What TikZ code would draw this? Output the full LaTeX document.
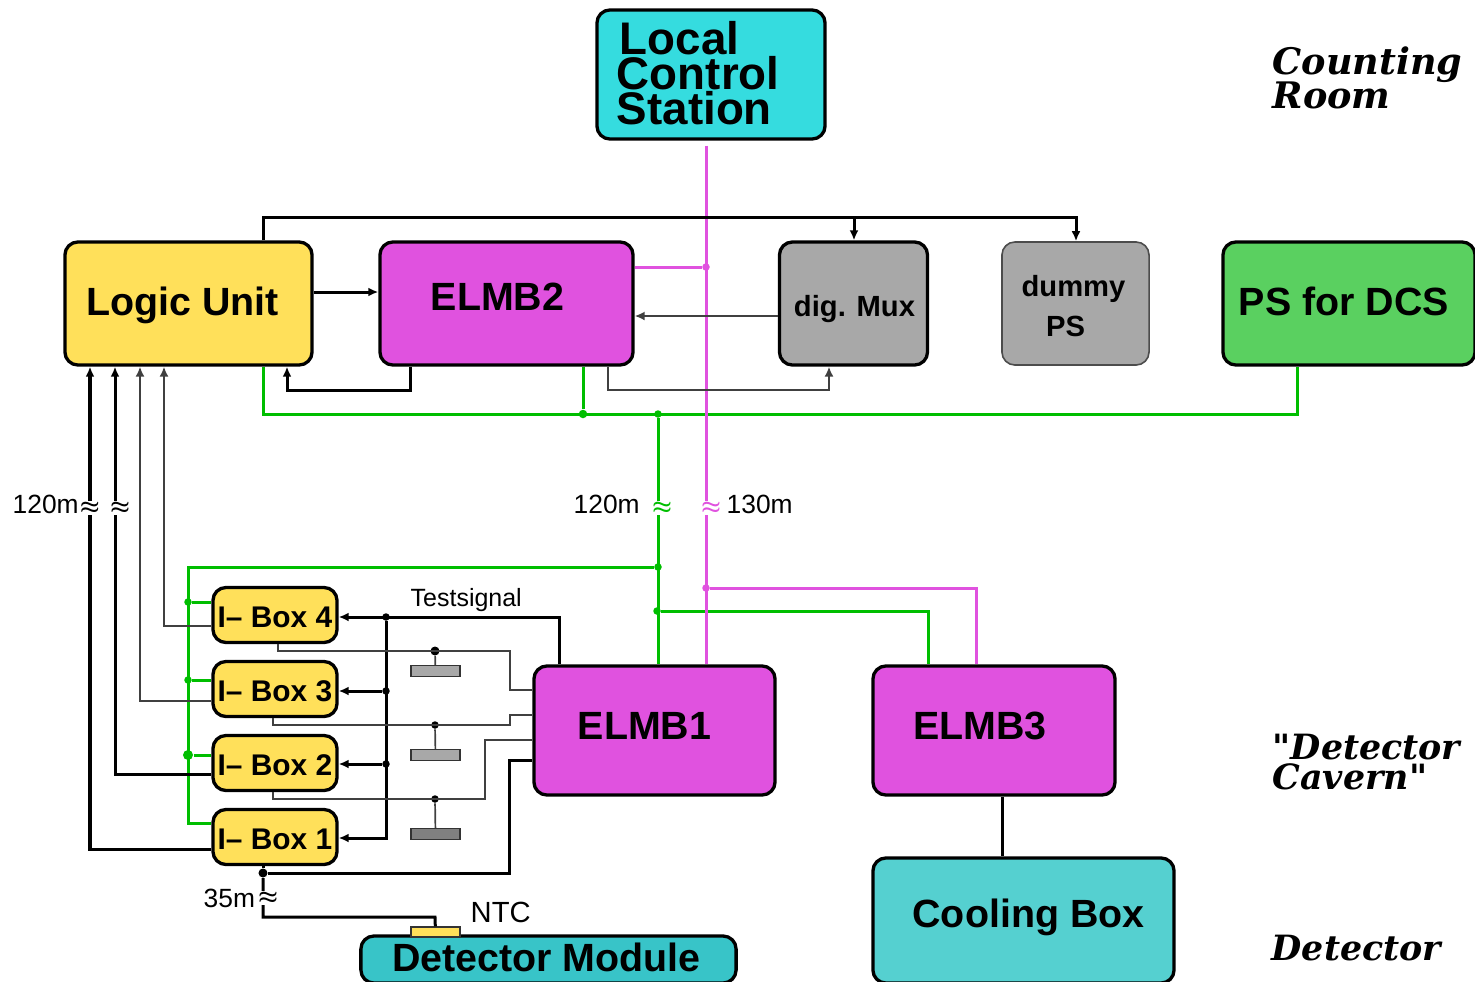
\documentclass[tikz,border=0pt]{standalone}
\usepackage{fontspec}
\setmainfont{Liberation Sans}
\newfontfamily\roomfont{DejaVu Serif}
\usepackage{tikz}
\usetikzlibrary{positioning, arrows.meta}

\definecolor{cyanbox}{HTML}{35DCDF}
\definecolor{yellowbox}{HTML}{FFE05A}
\definecolor{elmbbox}{HTML}{E052DF}
\definecolor{graybox}{HTML}{A8A8A8}
\definecolor{greenbox}{HTML}{5AD060}
\definecolor{coolbox}{HTML}{55D0D0}
\definecolor{modbox}{HTML}{38C4C8}
\definecolor{wiregreen}{HTML}{00BE00}

\setlength\lineskiplimit{-20pt}
\newlength\pxu
\setlength\pxu{0.01cm}
\newcommand{\off}[3]{\raisebox{#2\pxu}[0pt][0pt]{\hspace*{#1\pxu}#3\hspace*{-#1\pxu}}}

\tikzset{
	box/.style={draw=black, line width=0.033cm, rounded corners=0.13cm, inner sep=0pt, align=center},
	bigbox/.style={box, font=\fontsize{11.2}{13}\selectfont\bfseries},
	ibox/.style={box, fill=yellowbox, minimum width=1.24cm, minimum height=0.55cm, font=\fontsize{8.5}{10}\selectfont\bfseries},
	smallbox/.style={box, fill=graybox, minimum width=1.48cm, minimum height=1.23cm, font=\fontsize{8.3}{11.1}\selectfont\bfseries},
	load/.style={draw=black!80, line width=0.014cm, minimum width=0.49cm, minimum height=0.11cm, inner sep=0pt},
	dot/.style={circle, fill=#1, inner sep=0pt, minimum size=0.075cm},
	dot/.default=black,
	blk/.style={draw=black, line width=0.03cm},
	thn/.style={draw=black!75, line width=0.017cm},
	grn/.style={draw=wiregreen, line width=0.03cm},
	mag/.style={draw=elmbbox, line width=0.03cm},
	lab/.style={inner sep=0pt, font=\fontsize{7.5}{9}\selectfont},
	brk/.style={fill=white, inner sep=0.3pt, font=\fontsize{5.5}{5.5}\selectfont\boldmath},
	room/.style={inner sep=0pt, anchor=west, align=left},
	>={Latex[length=0.1cm,width=0.09cm]}
}

\begin{document}
\begin{tikzpicture}[x=0.01cm,y=-0.01cm]
\useasboundingbox (0,0) rectangle (1475,981);

% boxes
\node[box, fill=cyanbox, minimum height=1.29cm, text width=1.88cm, inner xsep=0.2cm, align=left, font=\fontsize{13}{9.9}\selectfont\bfseries] (lcs) at (711,74.5) {\off{3}{-15}{Local}\\\off{0}{-15}{Control}\\\off{0}{-15}{Station}};
\node[bigbox, fill=yellowbox, minimum width=2.47cm, minimum height=1.23cm] (logic) at (188.5,303.5) {\off{-6}{-12}{Logic Unit}};
\node[bigbox, fill=elmbbox, minimum width=2.53cm, minimum height=1.23cm] (elmb2) at (506.5,303.5) {\off{-9}{-7}{ELMB2}};
\node[smallbox] (mux) at (853.5,303.5) {\off{1}{-13}{dig. Mux}};
\node[smallbox, draw=black!70, line width=0.016cm, minimum width=1.47cm] (dummy) at (1075.5,303.5) {\off{-2}{-13}{dummy}\\\off{-10}{-13}{PS}};
\node[bigbox, fill=greenbox, minimum width=2.52cm, minimum height=1.23cm] (psdcs) at (1349,303.5) {\off{-5}{-12}{PS for DCS}};
\node[bigbox, fill=elmbbox, minimum width=2.41cm, minimum height=1.29cm] (elmb1) at (654.5,730.5) {\off{-10}{-9}{ELMB1}};
\node[bigbox, fill=elmbbox, minimum width=2.42cm, minimum height=1.29cm] (elmb3) at (994,730.5) {\off{-14}{-9}{ELMB3}};
\node[bigbox, fill=coolbox, minimum width=3.01cm, minimum height=1.25cm] (cool) at (1023.5,920.5) {\off{5}{-7}{Cooling Box}};
\node[bigbox, fill=modbox, minimum width=3.75cm, minimum height=0.47cm] (module) at (548.5,959.5) {\off{-2}{-12}{Detector Module}};
\node[draw=black!80, line width=0.014cm, fill=yellowbox, minimum width=0.49cm, minimum height=0.1cm, inner sep=0pt] (ntc) at (435.5,932) {};

\node[ibox] (ibox4) at (275,615) {\off{0}{-12}{I-- Box 4}};
\node[ibox] (ibox3) at (275,689) {\off{0}{-12}{I-- Box 3}};
\node[ibox] (ibox2) at (275,763) {\off{0}{-12}{I-- Box 2}};
\node[ibox] (ibox1) at (275,837) {\off{0}{-12}{I-- Box 1}};

\node[load, fill=graybox] (load4) at (435.5,671) {};
\node[load, fill=graybox] (load3) at (435.5,755) {};
\node[load, fill=black!50] (load2) at (435.5,834) {};

% junctions
\node[dot=elmbbox] (jtop) at (706,267) {};
\node[dot=elmbbox] (jelmb3) at (706,588) {};
\node[dot=wiregreen, minimum size=0.085cm] (jsupply) at (583,414) {};
\node[dot=wiregreen] (jcable) at (658,414) {};
\node[dot=wiregreen] (jibox) at (658,567) {};
\node[dot=wiregreen] (jcool) at (657,611) {};
\node[dot=wiregreen] (jfour) at (188,602) {};
\node[dot=wiregreen] (jthree) at (188,680) {};
\node[dot=wiregreen, minimum size=0.1cm] (jtwo) at (188,755) {};
\node[dot] (jtest4) at (386,617) {};
\node[dot] (jtest3) at (386,691) {};
\node[dot] (jtest2) at (386,764) {};
\node[dot, minimum size=0.09cm] (jload4) at (435,651) {};
\node[dot] (jload3) at (435,725) {};
\node[dot] (jload2) at (435,799) {};
\node[dot, minimum size=0.09cm] (jntc) at (263,873) {};

% green supply
\draw[grn] (logic.south -| 263,0) |- (1297,414) -- (psdcs.south -| 1297,0);
\draw[grn] (elmb2.south -| jsupply) -- (jsupply);
\draw[grn] (jcable) -- (elmb1.north -| jcable);
\draw[grn] (jibox) -| (188,823) -- (ibox1.west |- 0,823);
\draw[grn] (jfour) -- (ibox4.west |- jfour);
\draw[grn] (jthree) -- (ibox3.west |- jthree);
\draw[grn] (jtwo) -- (ibox2.west |- jtwo);
\draw[grn] (jcool) -| (elmb3.north -| 928,0);

% can bus
\draw[mag, shorten <=0.05cm] (lcs.south -| jtop) -- (elmb1.north -| jtop);
\draw[mag] (elmb2.east |- jtop) -- (jtop);
\draw[mag] (jelmb3) -| (elmb3.north -| 976,0);

% control lines
\draw[blk,->] (logic.north -| 263,0) |- (1076,217) -- (dummy.north -| 1076,0);
\draw[blk,->] (854,217) -- (mux.north -| 854,0);
\draw[blk,->] (logic.east |- 0,292) -- (elmb2.west |- 0,292);
\draw[thn,->] (mux.west |- 0,316) -- (elmb2.east |- 0,316);
\draw[blk,->] (elmb2.south -| 410,0) |- (287,390) -- (logic.south -| 287,0);
\draw[thn,->] (elmb2.south -| 608,0) |- (829,390) -- (mux.south -| 829,0);

% i-box read out
\draw[blk,->] (ibox1.west |- 0,849) -| (logic.south -| 90,0);
\draw[blk,->] (ibox2.west |- 0,774) -| (logic.south -| 115,0);
\draw[thn,->] (ibox3.west |- 0,701) -| (logic.south -| 140,0);
\draw[thn,->] (ibox4.west |- 0,626) -| (logic.south -| 164,0);

% test signal
\draw[blk,->] (elmb1.north -| 559,0) |- (ibox4.east |- 0,617);
\draw[blk,->] (jtest4) |- (ibox1.east |- 0,838);
\draw[blk,->] (jtest3) -- (ibox3.east |- jtest3);
\draw[blk,->] (jtest2) -- (ibox2.east |- jtest2);

% i-box outputs
\draw[thn] (ibox4.south -| 278,0) |- (510,651) |- (elmb1.west |- 0,690);
\draw[thn] (ibox3.south -| 273,0) |- (510,725) |- (elmb1.west |- 0,715);
\draw[thn] (ibox2.south -| 273,0) |- (485,799) |- (elmb1.west |- 0,740);
\draw[blk] (jntc) -| (509,760) -- (elmb1.west |- 0,760);
\draw[thn] (jload4) -- (load4);
\draw[thn] (jload3) -- (load3);
\draw[thn] (jload2) -- (load2);

% ntc
\draw[blk] (ibox1.south -| jntc) -- (jntc);
\draw[blk] (jntc) |- (435,917) -- (ntc);
\draw[blk] (elmb3.south -| 1002,0) -- (cool.north -| 1002,0);

% long cables
\node[brk] (cut1) at (90,508) {$\approx$};
\node[brk] (cut2) at (120,508) {$\approx$};
\node[brk, text=wiregreen] (cut3) at (662,508) {$\approx$};
\node[brk, text=elmbbox] (cut4) at (711,508) {$\approx$};
\node[brk] (cut5) at (268,898) {$\approx$};

% labels
\node[lab, anchor=west] (len1) at (12,504) {120m};
\node[lab, anchor=west] (len2) at (573,504) {120m};
\node[lab, anchor=west] (len3) at (726,504) {130m};
\node[lab, anchor=west] (len4) at (203,898) {35m};
\node[lab, anchor=west, font=\fontsize{7.1}{9}\selectfont] (testsig) at (410,600) {Testsignal};
\node[lab, anchor=west, font=\fontsize{8.3}{10}\selectfont] (ntclab) at (470,912) {NTC};

\node[room, font=\roomfont\bfseries\itshape\fontsize{10.4}{9.7}\selectfont] (counting) at (1272,78) {Counting\\Room};
\node[room, font=\roomfont\bfseries\itshape\fontsize{9.9}{8.6}\selectfont] (cavern) at (1272,762) {"Detector\\Cavern"};
\node[room, font=\roomfont\bfseries\itshape\fontsize{9.9}{10}\selectfont] (detector) at (1271,948) {Detector};

\end{tikzpicture}
\end{document}
